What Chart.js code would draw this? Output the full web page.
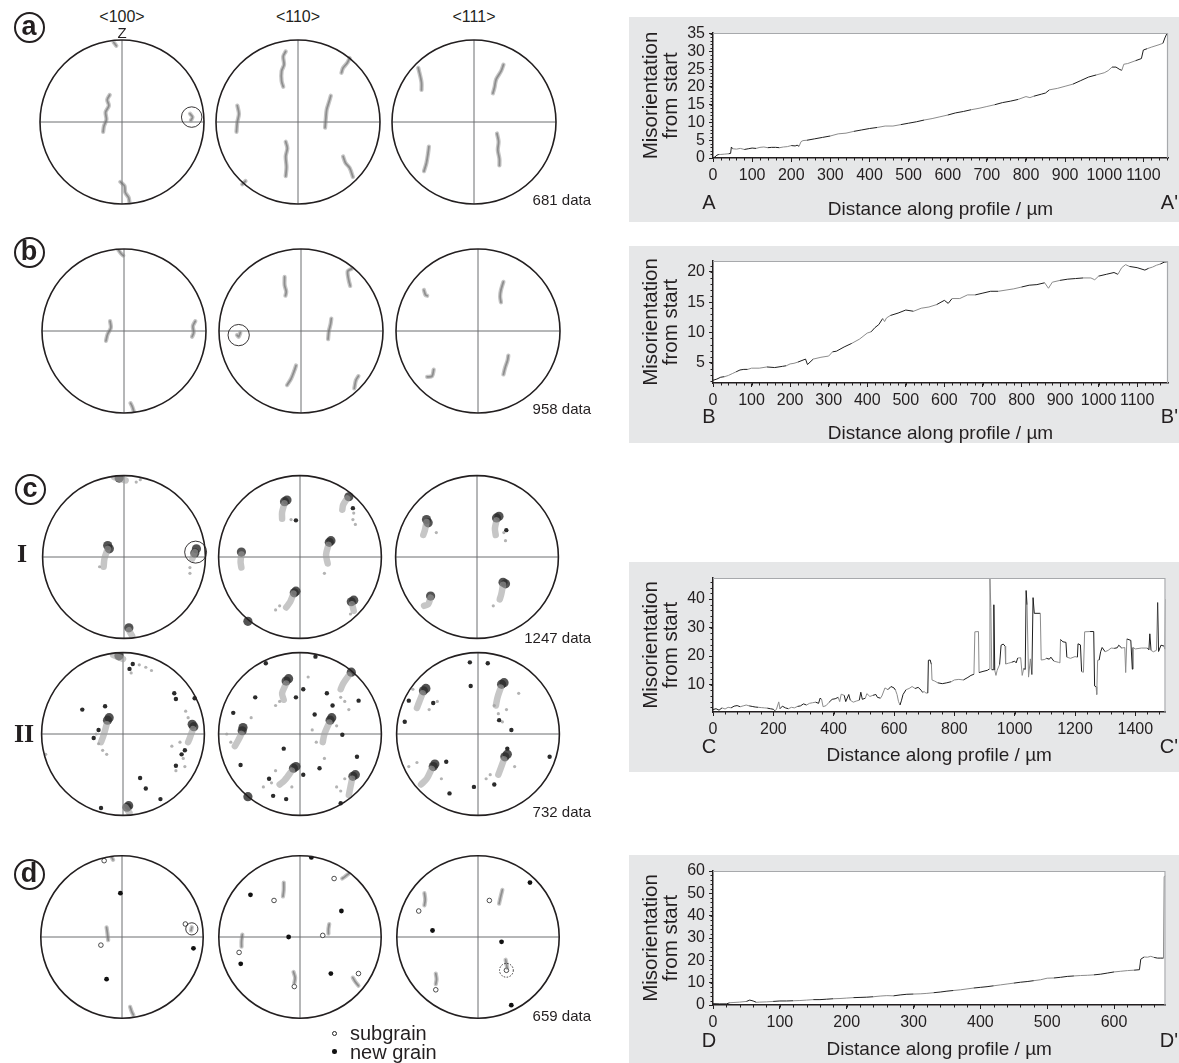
<!DOCTYPE html>
<html><head><meta charset="utf-8">
<script src="https://cdn.jsdelivr.net/npm/chart.js@4.4.1/dist/chart.umd.min.js"></script>
<style>
html,body{margin:0;padding:0;background:#fff;}
#root{position:relative;width:1179px;height:1063px;overflow:hidden;font-family:"Liberation Sans",Arial,sans-serif;color:#231f20;}
.box{position:absolute;background:#e6e7e8;}
.lbl{position:absolute;white-space:nowrap;line-height:1;}
.circ{position:absolute;border:2px solid #231f20;border-radius:50%;box-sizing:border-box;width:31px;height:31px;display:flex;align-items:center;justify-content:center;font-weight:bold;font-size:27px;line-height:1;padding-bottom:2px;}
canvas{position:absolute;}
</style></head><body><div id="root"></div>
<script>
// ---------------- profile data (distance µm, misorientation °) ----------------
const profA_x = [0,5,10,15,20,30,40,45,47,50,60,70,80,90,100,110,120,130,140,150,160,170,180,190,200,210,215,220,225,230,240,260,280,300,320,340,360,380,400,420,440,460,480,500,520,540,560,580,600,620,640,660,680,700,720,740,760,780,800,810,820,840,850,860,880,900,920,940,960,980,1000,1010,1020,1030,1040,1045,1050,1060,1080,1095,1100,1110,1120,1140,1150,1155,1160,1163];
const profA_y = [0,0.3,0.8,1.0,1.0,1.1,1.2,1.3,3.1,2.6,2.5,2.7,2.4,2.6,2.8,2.7,3.0,3.1,2.9,3.0,3.0,2.9,3.1,3.2,3.5,3.4,3.6,3.3,4.6,4.9,5.0,5.4,5.8,6.2,6.8,7.0,7.5,7.9,8.3,8.6,9.0,9.0,9.4,9.8,10.2,10.7,11.1,11.6,12.1,12.7,13.1,13.6,14.0,14.5,15.0,15.6,16.0,16.5,17.3,17.0,17.4,18.0,18.3,19.2,19.6,20.2,20.8,21.8,22.8,23.4,24.0,24.6,25.6,25.6,24.9,24.7,26.4,26.6,27.4,28.0,30.4,30.8,31.2,31.9,32.3,33.8,35.0,35.2];

const profB_x = [0,10,20,30,40,50,60,70,80,90,100,120,140,160,180,190,200,210,220,240,245,260,280,300,310,320,340,360,380,400,410,420,430,440,445,450,460,480,500,520,540,560,580,600,610,620,640,660,680,700,720,740,760,780,800,820,840,860,870,880,900,920,940,960,980,990,1000,1020,1040,1050,1060,1070,1080,1100,1120,1130,1140,1150,1160,1170,1180];
const profB_y = [2.1,2.3,2.6,2.7,2.9,3.2,3.5,3.8,3.9,3.9,4.1,4.1,4.3,4.2,4.4,4.5,4.8,4.9,5.1,5.6,4.7,5.6,5.9,6.1,6.8,6.9,7.6,8.2,8.9,9.9,10.1,10.8,11.3,12.3,11.8,12.4,12.8,13.2,13.7,13.5,14.0,14.2,14.6,15.3,14.8,15.6,15.6,16.2,16.2,16.5,16.8,16.8,17.0,17.2,17.5,17.8,17.9,18.2,17.3,18.3,18.6,18.8,18.9,19.0,19.0,18.7,19.3,19.6,19.9,19.6,20.7,21.2,20.9,20.7,20.3,20.6,20.8,21.1,21.3,21.6,21.7];

const profC_x = [0,10,20,30,40,50,60,70,80,90,100,110,120,130,140,150,160,170,180,190,200,205,210,218,222,230,240,250,260,270,280,290,300,310,320,330,340,350,355,360,365,375,385,395,405,415,420,425,435,440,450,455,465,475,485,490,495,505,510,520,530,540,545,555,560,570,580,590,600,605,610,615,620,625,630,640,650,660,670,680,690,695,700,705,712,714,720,724,726,735,745,760,775,790,800,815,830,845,855,865,868,880,882,895,910,915,918,921,924,929,931,934,938,942,950,955,962,968,970,980,990,1000,1005,1010,1020,1025,1030,1035,1038,1041,1046,1052,1057,1061,1065,1085,1088,1100,1105,1115,1120,1130,1145,1150,1152,1160,1170,1173,1185,1200,1208,1210,1218,1222,1228,1232,1250,1262,1265,1270,1272,1275,1280,1285,1290,1300,1310,1320,1330,1340,1345,1355,1365,1368,1372,1385,1390,1392,1400,1420,1440,1445,1448,1452,1460,1470,1474,1477,1485,1495,1498,1500];
const profC_y = [1.2,1.5,1.0,1.8,1.4,2.0,1.8,2.4,2.6,2.2,2.5,2.8,2.5,2.3,2.1,2.0,1.9,1.8,1.7,1.5,1.3,0.8,1.2,3.9,1.5,2.4,1.8,1.5,2.0,1.8,2.3,2.5,3.2,2.8,3.4,3.6,3.8,3.4,5.2,4.8,2.2,2.6,3.8,4.8,5.0,5.5,4.0,6.6,6.2,4.0,6.5,4.5,3.8,4.2,4.5,7.3,4.8,5.2,6.8,5.8,6.2,6.5,5.5,5.2,6.0,8.8,8.2,9.3,8.8,8.0,6.5,4.0,2.8,4.5,6.5,8.2,8.6,9.3,8.6,9.0,8.0,7.2,7.6,7.0,7.0,18.5,18.6,17.0,11.6,11.2,10.6,10.3,10.6,11.0,11.6,11.8,11.6,12.5,13.2,13.6,28.5,28.6,14.2,14.6,15.0,15.4,47.4,37.0,15.2,15.2,38.0,15.0,13.2,15.0,17.0,23.8,24.2,23.5,17.2,17.5,17.8,18.2,17.6,19.3,19.4,13.2,15.6,15.3,43.0,38.0,12.6,19.0,13.5,40.5,35.0,35.0,18.6,18.8,19.2,18.9,19.6,18.2,17.8,17.6,25.8,25.0,24.8,19.6,19.2,19.8,19.6,24.3,23.9,14.5,14.3,28.5,28.6,28.6,9.5,9.2,6.5,18.5,18.6,21.5,23.0,21.5,22.0,22.8,22.7,22.9,23.8,22.8,23.0,14.2,26.0,25.5,15.4,23.0,22.5,22.8,22.8,22.2,27.8,22.0,21.5,22.0,38.8,21.6,23.8,23.5,22.4,40.0];

const profD_x = [0,10,20,25,30,40,50,55,60,65,70,80,90,100,110,120,130,140,150,160,170,180,190,200,210,220,230,240,250,260,270,280,290,300,310,320,330,340,350,360,370,380,390,400,410,420,430,440,450,460,470,480,490,500,510,520,530,540,550,560,570,580,590,600,610,620,630,638,640,645,650,655,660,665,670,674,675,677];
const profD_y = [0.6,0.5,0.5,1.0,1.1,1.3,1.6,2.2,1.8,1.2,1.3,1.4,1.6,1.8,1.8,1.9,2.0,2.2,2.4,2.4,2.6,2.8,2.9,3.1,3.3,3.4,3.5,3.7,4.0,4.2,4.1,4.5,4.8,4.9,5.0,5.2,5.5,5.8,6.2,6.5,6.8,7.2,7.6,7.9,8.2,8.6,9.0,9.4,9.8,10.2,10.5,10.9,11.3,12.0,12.1,12.4,12.8,13.0,13.2,13.3,13.5,13.8,14.3,14.8,15.1,15.4,15.6,15.8,20.5,21.5,21.4,21.8,21.3,21.0,21.0,21.0,57.5,57.8];

// ---------------- pole figure data (normalised stereographic coordinates) ----------------
const poleHeaders = ['<100>','<110>','<111>'];
const a100 = {streaks:[[[-0.1,0.97],[-0.07,0.93]],[[-0.15,0.33],[-0.18,0.27],[-0.16,0.2],[-0.2,0.12],[-0.19,0.03],[-0.22,-0.05],[-0.23,-0.12]],[[-0.02,-0.73],[0.03,-0.78],[0.04,-0.86],[0.08,-0.92],[0.09,-0.97]],[[0.83,0.1],[0.86,0.06],[0.84,0.02]]], rings:[[0.85,0.06,0.125,false]]};
const a110 = {streaks:[[[-0.15,0.86],[-0.18,0.8],[-0.17,0.7],[-0.2,0.62],[-0.2,0.5],[-0.18,0.43]],[[0.63,0.78],[0.6,0.72],[0.55,0.66],[0.53,0.6]],[[0.4,0.32],[0.38,0.25],[0.35,0.15],[0.34,0.05],[0.33,-0.07]],[[-0.74,0.2],[-0.72,0.1],[-0.74,0.0],[-0.75,-0.12]],[[-0.15,-0.24],[-0.13,-0.32],[-0.15,-0.42],[-0.14,-0.55],[-0.15,-0.66]],[[0.55,-0.42],[0.58,-0.5],[0.63,-0.56],[0.67,-0.67]],[[-0.64,-0.72],[-0.68,-0.76]]]};
const a111 = {streaks:[[[-0.68,0.66],[-0.66,0.58],[-0.64,0.48],[-0.64,0.39]],[[0.36,0.7],[0.33,0.62],[0.27,0.52],[0.25,0.42],[0.23,0.35]],[[-0.55,-0.3],[-0.56,-0.38],[-0.58,-0.5],[-0.61,-0.6]],[[0.28,-0.14],[0.3,-0.24],[0.29,-0.34],[0.31,-0.45],[0.31,-0.53]]]};

const b100 = {streaks:[[[-0.07,0.99],[-0.04,0.95],[-0.01,0.92]],[[-0.17,0.12],[-0.16,0.04],[-0.2,-0.04],[-0.22,-0.12]],[[0.87,0.12],[0.84,0.06],[0.85,-0.02],[0.83,-0.07]],[[0.08,-0.88],[0.1,-0.92],[0.12,-0.98]]]};
const b110 = {streaks:[[[-0.2,0.66],[-0.2,0.56],[-0.18,0.48],[-0.19,0.43]],[[0.62,0.76],[0.57,0.73],[0.58,0.63],[0.6,0.55]],[[0.37,0.15],[0.36,0.08],[0.34,0.0],[0.33,-0.1]],[[-0.74,-0.02],[-0.76,-0.07],[-0.78,-0.05]],[[-0.06,-0.42],[-0.08,-0.48],[-0.12,-0.58],[-0.17,-0.66]],[[0.7,-0.55],[0.67,-0.6],[0.65,-0.7]]], rings:[[-0.76,-0.05,0.13,false]]};
const b111 = {streaks:[[[-0.66,0.5],[-0.64,0.44],[-0.62,0.43]],[[0.31,0.6],[0.28,0.5],[0.27,0.42],[0.28,0.35]],[[-0.54,-0.47],[-0.56,-0.55],[-0.62,-0.56]],[[0.37,-0.3],[0.36,-0.36],[0.33,-0.45],[0.31,-0.53]]]};

const c1_100 = {blobs:[[-0.2,0.14],[-0.18,0.1],[0.89,0.1],[0.87,0.05],[0.06,-0.87],[-0.06,0.97]],
  tails:[[[-0.2,0.1],[-0.24,-0.02],[-0.25,-0.12]],[[0.87,0.06],[0.84,-0.02]],[[-0.12,0.98],[0.02,0.94]],[[0.06,-0.9],[0.1,-0.97]]],
  light:[[0.81,-0.13],[0.81,-0.2],[0.15,0.92],[0.2,0.95],[-0.3,-0.12]], rings:[[0.88,0.06,0.135,false]]};
const c1_110 = {blobs:[[-0.19,0.68],[-0.16,0.7],[0.6,0.74],[0.36,0.18],[0.38,0.2],[-0.72,0.06],[-0.07,-0.44],[-0.05,-0.42],[0.63,-0.55],[0.66,-0.53],[-0.64,-0.79]],
  tails:[[[-0.19,0.66],[-0.22,0.55],[-0.22,0.47]],[[0.58,0.72],[0.53,0.64],[0.52,0.58]],[[0.35,0.15],[0.32,0.03],[0.34,-0.08]],[[-0.72,0.03],[-0.73,-0.06],[-0.72,-0.13]],[[-0.08,-0.45],[-0.12,-0.55],[-0.17,-0.62]],[[0.64,-0.58],[0.66,-0.66]]],
  light:[[-0.11,0.46],[0.65,0.46],[0.66,0.54],[0.68,0.4],[0.3,-0.2],[-0.3,-0.65],[-0.25,-0.6],[0.62,-0.7]], dark:[[-0.05,0.45],[0.65,0.6]]};
const c1_111 = {blobs:[[-0.62,0.46],[-0.6,0.42],[0.24,0.48],[0.27,0.5],[-0.57,-0.48],[0.32,-0.31],[0.35,-0.33]],
  tails:[[[-0.62,0.43],[-0.64,0.33],[-0.66,0.27]],[[0.24,0.45],[0.22,0.35],[0.23,0.27]],[[-0.57,-0.5],[-0.6,-0.58],[-0.65,-0.6]],[[0.32,-0.34],[0.3,-0.45],[0.28,-0.52]]],
  light:[[0.33,0.3],[0.35,0.2],[-0.5,0.3],[0.2,-0.6]], dark:[[0.36,0.33]]};

const c2_100 = {blobs:[[-0.05,0.96],[-0.19,0.17],[-0.17,0.2],[0.87,0.09],[0.85,0.12],[0.05,-0.9],[0.07,-0.88]],
  tails:[[[-0.12,0.97],[0.0,0.92]],[[-0.2,0.12],[-0.24,-0.02],[-0.27,-0.1]],[[0.86,0.06],[0.82,-0.05],[0.8,-0.1]],[[0.03,-0.9],[0.08,-0.97]]],
  dark:[[-0.5,0.3],[-0.22,0.34],[0.63,0.5],[0.65,0.43],[0.88,0.44],[0.65,-0.39],[0.21,-0.54],[0.28,-0.67],[0.46,-0.8],[-0.27,-0.91],[-0.36,-0.05],[0.76,-0.2],[0.72,-0.25],[0.12,0.86],[0.08,0.8],[-0.3,0.05]],
  light:[[0.2,0.85],[0.28,0.82],[0.35,0.78],[0.1,0.75],[-0.3,-0.12],[-0.25,-0.2],[-0.33,0.0],[0.7,-0.1],[0.74,-0.3],[0.76,-0.4],[0.8,0.2],[0.77,0.28],[-0.95,-0.25],[0.65,-0.45],[0.6,-0.15],[-0.2,-0.25]]};
const c2_110 = {blobs:[[-0.17,0.65],[-0.14,0.68],[0.63,0.76],[0.37,0.17],[0.39,0.2],[-0.71,0.04],[-0.7,0.08],[-0.08,-0.42],[-0.05,-0.4],[0.65,-0.52],[0.68,-0.5],[-0.64,-0.77]],
  tails:[[[-0.17,0.62],[-0.22,0.5],[-0.2,0.42]],[[0.6,0.72],[0.53,0.62],[0.5,0.55]],[[0.36,0.14],[0.3,0.0],[0.28,-0.1]],[[-0.72,0.0],[-0.76,-0.08],[-0.8,-0.15]],[[-0.1,-0.45],[-0.19,-0.57],[-0.25,-0.62]],[[0.64,-0.55],[0.62,-0.65],[0.6,-0.75]]],
  dark:[[-0.42,0.87],[0.19,0.95],[-0.55,0.45],[0.33,0.5],[-0.82,0.26],[0.18,0.24],[-0.2,-0.18],[-0.73,-0.38],[0.04,-0.5],[0.24,-0.42],[0.7,-0.28],[-0.33,-0.76],[-0.17,-0.8],[0.52,-0.01],[0.72,0.41],[0.04,0.55],[-0.38,-0.55],[-0.05,0.45],[0.4,0.35],[0.5,-0.85]],
  light:[[-0.25,0.4],[-0.3,0.35],[0.5,0.45],[0.55,0.4],[0.6,0.3],[0.15,0.05],[0.2,-0.1],[-0.85,-0.1],[-0.9,0.0],[-0.3,-0.45],[-0.35,-0.6],[-0.45,-0.65],[0.45,-0.65],[0.5,-0.7],[0.55,-0.55],[0.3,-0.3],[-0.6,0.2],[0.1,0.7],[0.45,0.1],[-0.1,-0.65]]};
const c2_111 = {blobs:[[-0.67,0.53],[-0.64,0.56],[0.29,0.61],[0.32,0.63],[-0.55,-0.4],[-0.53,-0.37],[0.33,-0.28],[0.36,-0.25]],
  tails:[[[-0.68,0.5],[-0.72,0.4],[-0.75,0.32]],[[0.28,0.57],[0.24,0.45],[0.22,0.35]],[[-0.57,-0.43],[-0.63,-0.55],[-0.7,-0.62]],[[0.32,-0.31],[0.28,-0.42],[0.25,-0.5]]],
  dark:[[-0.1,0.88],[0.12,0.87],[-0.09,0.59],[-0.85,0.41],[-0.9,0.15],[0.41,0.05],[0.26,0.17],[0.88,-0.28],[-0.35,-0.73],[-0.05,-0.65],[0.36,-0.18],[-0.39,-0.34],[0.2,-0.62],[-0.55,0.38]],
  light:[[0.25,0.25],[0.3,0.15],[0.35,0.3],[0.2,0.35],[-0.6,0.3],[-0.5,0.4],[-0.85,-0.4],[-0.75,-0.35],[-0.45,-0.55],[0.15,-0.5],[0.1,-0.55],[0.45,-0.4],[0.5,0.5],[-0.8,0.55]]};

const d100 = {streaks:[[[-0.13,0.99],[-0.11,0.95]],[[-0.19,0.12],[-0.18,0.05],[-0.17,-0.04]],[[0.86,0.12],[0.85,0.08]],[[0.1,-0.86],[0.12,-0.92],[0.14,-0.96]]],
  newg:[[-0.02,0.54],[0.88,-0.14],[-0.19,-0.52]], subg:[[-0.22,0.94],[-0.26,-0.1],[0.78,0.16]], rings:[[0.86,0.1,0.075,false]]};
const d110 = {streaks:[[[0.6,0.78],[0.55,0.74],[0.52,0.72]],[[-0.2,0.67],[-0.2,0.58],[-0.21,0.5]],[[0.36,0.16],[0.35,0.1],[0.35,0.04]],[[-0.71,0.03],[-0.72,-0.05],[-0.72,-0.12]],[[-0.08,-0.43],[-0.06,-0.5],[-0.07,-0.57]],[[0.65,-0.5],[0.68,-0.55],[0.72,-0.6]]],
  newg:[[0.14,0.98],[-0.61,0.52],[0.51,0.32],[-0.14,0.0],[-0.73,-0.33],[0.38,-0.45]], subg:[[0.42,0.72],[-0.32,0.45],[0.28,0.02],[-0.75,-0.19],[-0.07,-0.61],[0.72,-0.45]]};
const d111 = {streaks:[[[-0.66,0.54],[-0.65,0.46],[-0.66,0.39]],[[0.3,0.58],[0.28,0.5],[0.26,0.41]],[[0.34,-0.28],[0.35,-0.33],[0.36,-0.38]],[[-0.52,-0.45],[-0.51,-0.52],[-0.52,-0.58]]],
  newg:[[0.64,0.67],[-0.56,0.08],[0.29,-0.06],[0.41,-0.84]], subg:[[-0.73,0.32],[0.14,0.45],[0.35,-0.41],[-0.52,-0.65]], rings:[[0.35,-0.41,0.085,true]]};

// ---------------- rendering ----------------
const FONT = '"Liberation Sans", Arial, sans-serif';
const INK = '#231f20';
const root = document.getElementById('root');

function div(cls, html, css){ const d=document.createElement('div'); d.className=cls; d.innerHTML=html; Object.assign(d.style, css); root.appendChild(d); return d; }
function centerText(t, x, y, size, extra){ return div('lbl', t, Object.assign({left:x+'px', top:y+'px', transform:'translate(-50%,-50%)', fontSize:size+'px'}, extra||{})); }
function rightText(t, x, y, size){ return div('lbl', t, {left:(x-200)+'px', width:'200px', textAlign:'right', top:(y - size/2)+'px', fontSize:size+'px'}); }
function mkCanvas(left, top, w, h){ const c=document.createElement('canvas'); c.width=w; c.height=h; c.style.left=left+'px'; c.style.top=top+'px'; c.style.width=w+'px'; c.style.height=h+'px'; root.appendChild(c); return c; }

const netFrame = {
  id:'netFrame',
  beforeDatasetsDraw(chart){
    const {ctx, scales:{x,y}} = chart;
    const cx=x.getPixelForValue(0), cy=y.getPixelForValue(0), r=x.getPixelForValue(1)-cx;
    ctx.save(); ctx.strokeStyle='#6d6e71'; ctx.lineWidth=1;
    ctx.beginPath(); ctx.moveTo(cx-r,cy); ctx.lineTo(cx+r,cy); ctx.moveTo(cx,cy-r); ctx.lineTo(cx,cy+r); ctx.stroke(); ctx.restore();
  },
  afterDatasetsDraw(chart, args, o){
    const {ctx, scales:{x,y}} = chart;
    const cx=x.getPixelForValue(0), cy=y.getPixelForValue(0), r=x.getPixelForValue(1)-cx;
    ctx.save(); ctx.strokeStyle=INK; ctx.lineWidth=1.6;
    ctx.beginPath(); ctx.arc(cx,cy,r,0,Math.PI*2); ctx.stroke();
    (o.rings||[]).forEach(([rx,ry,rr,dashed])=>{
      ctx.lineWidth=0.9; ctx.setLineDash(dashed?[1.5,1.5]:[]);
      ctx.beginPath(); ctx.arc(x.getPixelForValue(rx), y.getPixelForValue(ry), rr*r, 0, Math.PI*2); ctx.stroke();
    });
    ctx.restore();
  }
};

function pts(a){ return a.map(([x,y])=>({x,y})); }

function poleChart(cx, cy, net){
  const c = mkCanvas(cx-86, cy-86, 172, 172);
  const ds = [];
  (net.tails||[]).forEach(s=>ds.push({data:pts(s), showLine:true, borderColor:'rgba(160,160,160,0.6)', borderWidth:6.5, pointRadius:0, tension:0.3, borderCapStyle:'round', borderJoinStyle:'round'}));
  if (net.light) ds.push({data:pts(net.light), pointRadius:1.6, backgroundColor:'rgba(160,160,160,0.8)', borderWidth:0});
  if (net.blobs) ds.push({data:pts(net.blobs), pointRadius:4.6, backgroundColor:'rgba(45,45,45,0.82)', borderWidth:0});
  (net.streaks||[]).forEach(s=>{
    ds.push({data:pts(s), showLine:true, borderColor:'rgba(140,140,140,0.5)', borderWidth:4.2, pointRadius:0, tension:0.3, borderCapStyle:'round', borderJoinStyle:'round'});
    ds.push({data:pts(s), showLine:true, borderColor:'rgba(70,70,70,0.6)', borderWidth:1.7, pointRadius:0, tension:0.3, borderCapStyle:'round', borderJoinStyle:'round'});
  });
  if (net.dark) ds.push({data:pts(net.dark), pointRadius:2.2, backgroundColor:'#2b2b2b', borderWidth:0});
  if (net.newg) ds.push({data:pts(net.newg), pointRadius:2.4, backgroundColor:'#111', borderWidth:0});
  if (net.subg) ds.push({data:pts(net.subg), pointRadius:2.3, backgroundColor:'#fff', borderColor:'#222', borderWidth:0.8});
  new Chart(c, {
    type:'scatter',
    data:{datasets:ds},
    options:{
      responsive:false, animation:false, events:[],
      layout:{padding:4},
      plugins:{legend:{display:false}, tooltip:{enabled:false}, netFrame:{rings:net.rings||[]}},
      scales:{x:{type:'linear', min:-1, max:1, display:false}, y:{type:'linear', min:-1, max:1, display:false}}
    },
    plugins:[netFrame]
  });
}

const profileDeco = {
  id:'profileDeco',
  beforeDraw(chart){
    const {ctx, chartArea:a} = chart;
    ctx.save(); ctx.fillStyle='#fff'; ctx.fillRect(a.left, a.top, a.right-a.left, a.bottom-a.top); ctx.restore();
  },
  afterDraw(chart, args, o){
    const {ctx, chartArea:a, scales:{x,y}, width} = chart;
    ctx.save();
    ctx.strokeStyle='#a7a9ac'; ctx.lineWidth=1.2;
    ctx.beginPath(); ctx.moveTo(a.left, a.top+0.5); ctx.lineTo(a.right-0.5, a.top+0.5); ctx.lineTo(a.right-0.5, a.bottom); ctx.stroke();
    ctx.strokeStyle=INK; ctx.lineWidth=1;
    ctx.beginPath();
    for (let v=o.minorX; v<x.max; v+=o.minorX){ const px=Math.round(x.getPixelForValue(v))+0.5; ctx.moveTo(px,a.bottom); ctx.lineTo(px,a.bottom+2.5); }
    for (let v=Math.ceil(y.min/o.minorY)*o.minorY; v<=y.max; v+=o.minorY){ const py=Math.round(y.getPixelForValue(v))+0.5; ctx.moveTo(a.left,py); ctx.lineTo(a.left-2.5,py); }
    ctx.stroke();
    ctx.fillStyle=INK; ctx.font='20px '+FONT; ctx.textBaseline='middle';
    ctx.textAlign='center'; ctx.fillText(o.start, a.left-4, a.bottom+o.letterDy);
    ctx.textAlign='right'; ctx.fillText(o.end, width-1, a.bottom+o.letterDy);
    ctx.restore();
  }
};

function profileChart(p){
  const boxLeft=629, boxW=550;
  div('box','',{left:boxLeft+'px', top:p.boxTop+'px', width:boxW+'px', height:p.boxH+'px'});
  const c = mkCanvas(boxLeft, p.boxTop, boxW, p.boxH);
  const boxBottom = p.boxTop + p.boxH;
  const tickFont = {size:16, family:FONT};
  new Chart(c, {
    type:'scatter',
    data:{datasets:[{data:p.xs.map((x,i)=>({x, y:p.ys[i]})), showLine:true, pointRadius:0, borderWidth:1, borderColor:'#333',
      segment:{borderColor: s => (Math.floor(s.p0DataIndex/3)%2 ? '#8c8c8c' : '#1e1e1e')}}]},
    options:{
      responsive:false, animation:false, events:[],
      layout:{padding:{left:4, top:p.areaTop-p.boxTop, right:p.padR, bottom:0}},
      plugins:{legend:{display:false}, tooltip:{enabled:false}, profileDeco:{minorX:p.minorX, minorY:p.minorY, start:p.start, end:p.end, letterDy:p.letterDy}},
      scales:{
        x:{type:'linear', min:0, max:p.xMax,
          afterFit: s => { s.height = boxBottom - p.areaBottom; },
          ticks:{stepSize:p.xStep, includeBounds:false, autoSkip:false, maxRotation:0, color:INK, font:tickFont, padding:4, callback: v => String(v)},
          grid:{drawOnChartArea:false, drawTicks:true, tickLength:4, color:INK, lineWidth:1},
          border:{color:INK, width:1.5},
          title:{display:true, text:'Distance along profile / µm', color:INK, font:{size:19, family:FONT, lineHeight:1}, padding:{top:0, bottom:p.titlePadB}}},
        y:{type:'linear', min:p.yMin, max:p.yMax,
          afterFit: s => { s.width = 80; },
          ticks:{stepSize:p.yStep, includeBounds:false, autoSkip:false, color:INK, font:tickFont, padding:4, callback: v => String(v)},
          grid:{drawOnChartArea:false, drawTicks:true, tickLength:4, color:INK, lineWidth:1},
          border:{color:INK, width:1.5},
          title:{display:true, text:['Misorientation','from start'], color:INK, font:{size:20.5, family:FONT, lineHeight:0.95}, padding:{top:9, bottom:0}}}
      }
    },
    plugins:[profileDeco]
  });
}

// pole figures
const rowsY = {a:122, b:331, c1:557, c2:734, d:937};
const colsX = {a:[122,298,474], b:[124,301,478], c1:[124,300,477], c2:[123,300,478], d:[122,300,478]};
[['a',[a100,a110,a111]],['b',[b100,b110,b111]],['c1',[c1_100,c1_110,c1_111]],['c2',[c2_100,c2_110,c2_111]],['d',[d100,d110,d111]]]
  .forEach(([k,nets])=>nets.forEach((n,i)=>poleChart(colsX[k][i], rowsY[k], n)));

poleHeaders.forEach((h,i)=>centerText(h.replace('<','&lt;').replace('>','&gt;'), colsX.a[i], 17, 16));
centerText('Z', 122, 32, 15);

[['a',29,27],['b',29,252],['c',30,489],['d',29,874]].forEach(([t,x,y])=>div('circ', t, {left:(x-15.5)+'px', top:(y-15.5)+'px', fontFamily:FONT}));
centerText('I', 22, 554, 26, {fontFamily:'"Liberation Serif","DejaVu Serif",serif', fontWeight:'bold'});
centerText('II', 24, 734, 26, {fontFamily:'"Liberation Serif","DejaVu Serif",serif', fontWeight:'bold'});

[['681 data',199],['958 data',408],['1247 data',637],['732 data',811],['659 data',1015]].forEach(([t,y])=>rightText(t, 591, y, 15));

// legend
div('lbl','',{left:'331.5px', top:'1030.5px', width:'5px', height:'5px', border:'0.8px solid #222', borderRadius:'50%', boxSizing:'border-box'});
div('lbl','',{left:'332px', top:'1049px', width:'4.5px', height:'4.5px', background:'#111', borderRadius:'50%'});
div('lbl','subgrain',{left:'350px', top:'1023px', fontSize:'20px'});
div('lbl','new grain',{left:'350px', top:'1042px', fontSize:'20px'});

// profile charts
profileChart({boxTop:17, boxH:205, areaTop:33, areaBottom:158, padR:11, xs:profA_x, ys:profA_y, xMax:1163, xStep:100, yMin:0, yMax:35.2, yStep:5, minorX:20, minorY:1, start:'A', end:"A'", letterDy:45, titlePadB:2.5});
profileChart({boxTop:246, boxH:197, areaTop:261, areaBottom:383, padR:11, xs:profB_x, ys:profB_y, xMax:1180, xStep:100, yMin:1.65, yMax:21.8, yStep:5, minorX:20, minorY:1, start:'B', end:"B'", letterDy:34, titlePadB:0});
profileChart({boxTop:562, boxH:210, areaTop:578, areaBottom:712, padR:13.5, xs:profC_x, ys:profC_y, xMax:1500, xStep:200, yMin:0.35, yMax:47.4, yStep:10, minorX:40, minorY:2, start:'C', end:"C'", letterDy:35, titlePadB:6.5});
profileChart({boxTop:855, boxH:208, areaTop:871, areaBottom:1005, padR:13.5, xs:profD_x, ys:profD_y, xMax:677, xStep:100, yMin:0, yMax:60, yStep:10, minorX:20, minorY:2, start:'D', end:"D'", letterDy:36, titlePadB:3.5});
</script></body></html>
